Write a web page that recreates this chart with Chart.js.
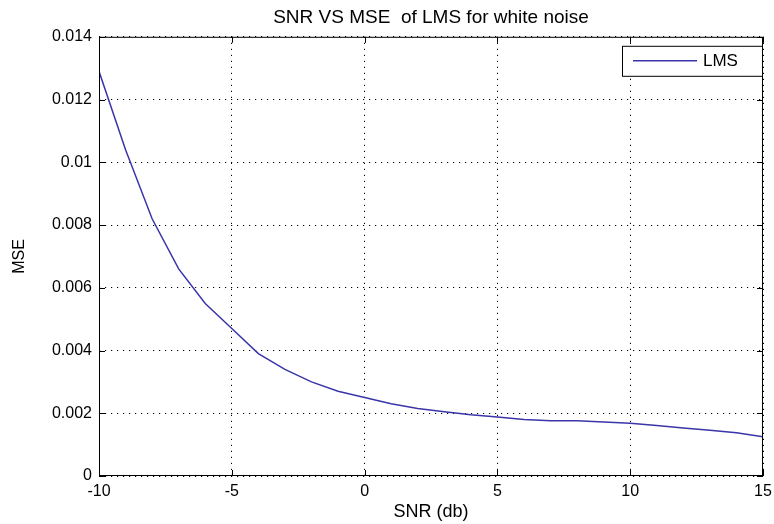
<!DOCTYPE html>
<html>
<head>
<meta charset="utf-8">
<script src="https://cdn.jsdelivr.net/npm/chart.js@4/dist/chart.umd.min.js"></script>
<style>
  html, body { margin: 0; padding: 0; background: #fff; }
  #wrap { width: 774px; height: 524px; position: relative; }
</style>
</head>
<body>
<div id="wrap"><canvas id="chart"></canvas></div>
<script>
// SNR in dB
const snr = [-10, -9, -8, -7, -6, -5, -4, -3, -2, -1, 0, 1, 2, 3, 4, 5, 6, 7, 8, 9, 10, 11, 12, 13, 14, 15];
const mseLms = [
  0.0129, 0.0104, 0.0082, 0.0066, 0.0055, 0.0047, 0.0039, 0.0034, 0.0030, 0.0027,
  0.0025, 0.0023, 0.00215, 0.00205, 0.00195, 0.00188, 0.0018, 0.00176, 0.00176, 0.00172,
  0.00168, 0.00161, 0.00153, 0.00146, 0.00138, 0.00125
];
const xTickLabels = ["-10", "-5", "0", "5", "10", "15"];
const yTickLabels = ["0", "0.002", "0.004", "0.006", "0.008", "0.01", "0.012", "0.014"];

const FONT = "'Liberation Sans', Arial, Helvetica, sans-serif";
const lineColor = "#3a35a8";

// matlab style box, inward ticks and the legend
const axesBox = {
  id: "axesBox",
  afterDraw(chart) {
    const { ctx, chartArea: a, scales } = chart;
    ctx.save();
    ctx.strokeStyle = "#000";
    ctx.lineWidth = 1;
    ctx.setLineDash([]);
    ctx.strokeRect(a.left + 0.5, a.top + 0.5, a.right - a.left - 1, a.bottom - a.top - 1);

    const t = 6;
    ctx.beginPath();
    scales.x.ticks.forEach(tk => {
      const px = Math.round(scales.x.getPixelForValue(tk.value)) + 0.5;
      ctx.moveTo(px, a.bottom); ctx.lineTo(px, a.bottom - t);
      ctx.moveTo(px, a.top); ctx.lineTo(px, a.top + t);
    });
    scales.y.ticks.forEach(tk => {
      const py = Math.round(scales.y.getPixelForValue(tk.value)) + 0.5;
      ctx.moveTo(a.left, py); ctx.lineTo(a.left + t, py);
      ctx.moveTo(a.right, py); ctx.lineTo(a.right - t, py);
    });
    ctx.stroke();

    // legend
    const ds = chart.data.datasets[0];
    const bx = a.right - 141, by = a.top + 9, bw = 140, bh = 30;
    ctx.fillStyle = "#fff";
    ctx.fillRect(bx, by, bw, bh);
    ctx.strokeRect(bx + 0.5, by + 0.5, bw, bh);
    ctx.strokeStyle = ds.borderColor;
    ctx.lineWidth = 1.5;
    ctx.beginPath();
    ctx.moveTo(bx + 11, by + 15);
    ctx.lineTo(bx + 75, by + 15);
    ctx.stroke();
    ctx.fillStyle = "#000";
    ctx.font = "17px " + FONT;
    ctx.textBaseline = "middle";
    ctx.fillText(ds.label, bx + 81, by + 16);
    ctx.restore();
  }
};

new Chart(document.getElementById("chart"), {
  type: "line",
  data: {
    datasets: [{
      label: "LMS",
      data: snr.map((x, i) => ({ x: x, y: mseLms[i] })),
      borderColor: lineColor,
      borderWidth: 1.5,
      pointRadius: 0,
      tension: 0,
      fill: false
    }]
  },
  options: {
    responsive: true,
    maintainAspectRatio: false,
    animation: false,
    layout: { padding: { left: 0, right: 11, top: 0, bottom: 0 } },
    plugins: {
      legend: { display: false },
      tooltip: { enabled: false },
      title: {
        display: true,
        fullSize: false,
        text: "SNR VS MSE  of LMS for white noise",
        color: "#000",
        font: { family: FONT, size: 19, weight: "normal" },
        padding: { top: 6, bottom: 8 }
      }
    },
    scales: {
      x: {
        type: "linear",
        min: -10,
        max: 15,
        afterFit: s => { s.height = 48; s.paddingLeft = 0; s.paddingRight = 0; },
        ticks: {
          stepSize: 5,
          color: "#000",
          padding: 6,
          maxRotation: 0,
          font: { family: FONT, size: 16 },
          callback: (v, i) => xTickLabels[i]
        },
        grid: {
          color: "#000",
          lineWidth: 1,
          drawTicks: false
        },
        border: { display: false, dash: [1.2, 4.8] },
        title: {
          display: true,
          text: "SNR (db)",
          color: "#000",
          font: { family: FONT, size: 18 },
          padding: { top: 0, bottom: 1 }
        }
      },
      y: {
        min: 0,
        max: 0.014,
        afterFit: s => { s.width = 99; s.paddingTop = 0; s.paddingBottom = 0; },
        ticks: {
          stepSize: 0.002,
          color: "#000",
          padding: 7,
          font: { family: FONT, size: 16 },
          callback: (v, i) => yTickLabels[i]
        },
        grid: {
          color: "#000",
          lineWidth: 1,
          drawTicks: false
        },
        border: { display: false, dash: [1.2, 4.8] },
        title: {
          display: true,
          text: "MSE",
          color: "#000",
          font: { family: FONT, size: 16 },
          padding: { top: 10, bottom: 0 }
        }
      }
    }
  },
  plugins: [axesBox]
});
</script>
</body>
</html>
